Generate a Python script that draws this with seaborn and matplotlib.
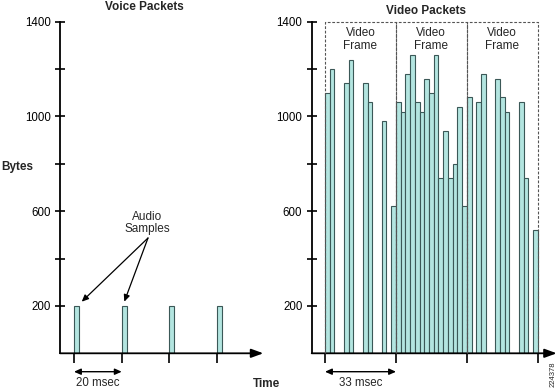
import matplotlib
matplotlib.use("Agg")
import matplotlib.pyplot as plt
import seaborn as sns
import pandas as pd

sns.set_theme(style="white")
plt.rcParams['font.family'] = ['Liberation Sans', 'DejaVu Sans']

# ---- data ----
voice_time_ms = [0, 20, 40, 60]
voice_bytes = [200, 200, 200, 200]

# video: (frame index, slot within frame 0..14, bytes)
video_frame = [0, 0, 0, 0, 0, 0, 0, 0,
               1, 1, 1, 1, 1, 1, 1, 1, 1, 1, 1, 1, 1, 1, 1,
               2, 2, 2, 2, 2, 2, 2, 2, 2, 2]
video_slot = [0, 1, 4, 5, 8, 9, 12, 14,
              0, 1, 2, 3, 4, 5, 6, 7, 8, 9, 10, 11, 12, 13, 14,
              0, 2, 3, 6, 7, 8, 11, 12, 14]
video_bytes = [1100, 1200, 1140, 1240, 1140, 1060, 980, 620,
               1060, 1020, 1180, 1260, 1060, 1020, 1160, 1100, 1260, 740, 940, 740, 800, 1040, 620,
               1080, 1060, 1180, 1160, 1080, 1020, 1060, 740, 520]
slots_per_frame = 15
frame_labels = ["Video\nFrame", "Video\nFrame", "Video\nFrame"]
y_major = [200, 600, 1000, 1400]
y_minor = [400, 800, 1200]

FILL = "#b3e5e0"
EDGE = "#3b5857"
W, H = 559, 392
fig = plt.figure(figsize=(W / 100, H / 100), dpi=100)

def frac(x0, x1, ytop, ybot):
    return [x0 / W, (H - ybot) / H, (x1 - x0) / W, (ybot - ytop) / H]

axL = fig.add_axes(frac(60, 263.3, 21.7, 353.3))
axR = fig.add_axes(frac(311.7, 556.7, 21.7, 353.3))

# voice bars (left edge at each time tick)
vbar_w = 2.23
dfv = pd.DataFrame({"t": [t + vbar_w / 2 for t in voice_time_ms], "b": voice_bytes})
sns.barplot(data=dfv, x="t", y="b", native_scale=True, width=vbar_w / 20,
            color=FILL, saturation=1, edgecolor=EDGE, linewidth=0.8,
            errorbar=None, ax=axL)

dfr = pd.DataFrame({"x": [f * slots_per_frame + s + 0.5 for f, s in zip(video_frame, video_slot)],
                    "b": video_bytes})
sns.barplot(data=dfr, x="x", y="b", native_scale=True, width=1.0,
            color=FILL, saturation=1, edgecolor=EDGE, linewidth=0.8,
            errorbar=None, ax=axR)

axL.set_xlim(-5.89, 79.6)
axR.set_xlim(-2.81, 49.0)

for ax in (axL, axR):
    ax.set_ylim(0, 1400)
    ax.set_facecolor("none")
    for s in ("top", "right", "bottom"):
        ax.spines[s].set_visible(False)
    ax.spines["left"].set_color("black")
    ax.spines["left"].set_linewidth(1.3)
    ax.set_yticks(y_major)
    ax.set_yticks(y_minor, minor=True)
    ax.set_yticklabels([str(v) for v in y_major])
    ax.tick_params(axis="y", which="both", direction="inout", length=7.5, width=1.2,
                   colors="black", labelsize=8.3, pad=3, left=True)
    ax.tick_params(axis="x", which="major", direction="out", length=7, width=1.2,
                   colors="black", labelbottom=False, bottom=True)
    ax.set_xlabel("")
    ax.set_ylabel("")
    ax.annotate("", xy=(1, 0), xytext=(0, 0), xycoords="axes fraction",
                arrowprops=dict(arrowstyle="-|>,head_length=0.6,head_width=0.22",
                                lw=1.3, color="black", shrinkA=0, shrinkB=0),
                annotation_clip=False)

axL.set_xticks(voice_time_ms)
axR.set_xticks([i * slots_per_frame for i in range(len(frame_labels) + 1)])

# dashed frame boxes
for i, lab in enumerate(frame_labels):
    x0 = i * slots_per_frame
    x1 = x0 + slots_per_frame
    axR.plot([x0, x0, x1, x1], [0, 1400, 1400, 0], ls=(0, (2.5, 1.5)), lw=0.8,
             color="#555555", zorder=5, clip_on=False)
    axR.text((x0 + x1) / 2, 1325, lab, ha="center", va="center", fontsize=8.5,
             linespacing=1.05)

# titles and axis words
fig.text(144 / W, 1 - 6.5 / H, "Voice Packets", ha="center", va="center",
         fontsize=8.5, fontweight="bold")
fig.text(426 / W, 1 - 11 / H, "Video Packets", ha="center", va="center",
         fontsize=8.5, fontweight="bold")
fig.text(1 / W, 1 - 167 / H, "Bytes", ha="left", va="center", fontsize=8.5,
         fontweight="bold")
fig.text(253 / W, 1 - 384 / H, "Time", ha="left", va="center", fontsize=8.5,
         fontweight="bold")

# interval arrows
def px(x, y):
    return (x / W, 1 - y / H)

for (xa, xb, lab) in [(74, 121.7, "20 msec"), (325, 396, "33 msec")]:
    fig.add_artist(matplotlib.patches.FancyArrowPatch(
        px(xa, 371.7), px(xb, 371.7), transform=fig.transFigure,
        arrowstyle="<|-|>,head_length=4,head_width=1.8", lw=1.0, color="black",
        shrinkA=0, shrinkB=0))
    fig.text(((xa + xb) / 2) / W, 1 - 383 / H, lab, ha="center", va="center",
             fontsize=8.3)

# audio samples annotation
fig.text(147.5 / W, 1 - 223 / H, "Audio\nSamples", ha="center", va="center",
         fontsize=8.5, linespacing=1.05)
for tip in [(81.7, 301.7), (124.3, 301.7)]:
    fig.add_artist(matplotlib.patches.FancyArrowPatch(
        px(148, 238), px(*tip), transform=fig.transFigure,
        arrowstyle="-|>,head_length=4,head_width=1.8", lw=0.9, color="black",
        shrinkA=0, shrinkB=0))

fig.text(553 / W, 1 - 374 / H, "224378", rotation=90, ha="center", va="center",
         fontsize=5.5)

fig.savefig("out.png", dpi=100)
